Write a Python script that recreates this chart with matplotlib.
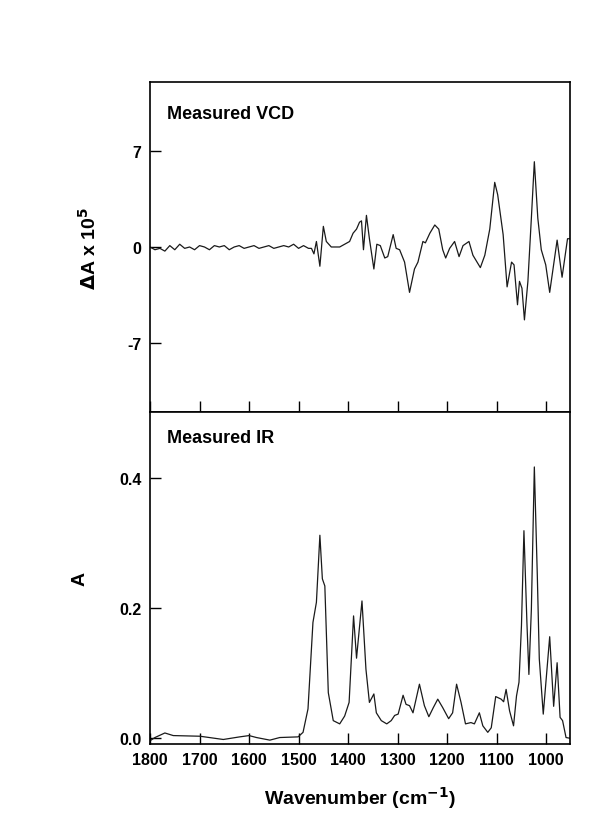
import numpy as np
import matplotlib
matplotlib.use("Agg")
import matplotlib.pyplot as plt

plt.rcParams["font.family"] = ["Liberation Sans", "DejaVu Sans"]
plt.rcParams["font.weight"] = "bold"
plt.rcParams["mathtext.default"] = "bf"
plt.rcParams["axes.unicode_minus"] = False

# ── Measured VCD (wavenumber, dA x 1e5) ───────────────────────────────────────
vcd_wn = [1800, 1790, 1780, 1770, 1760, 1750, 1740, 1730, 1720, 1710, 1700, 1690,
          1680, 1670, 1660, 1650, 1640, 1630, 1620, 1610, 1600, 1590, 1580, 1570,
          1560, 1550, 1540, 1530, 1520, 1510, 1500, 1490, 1480, 1474,
          1469, 1464, 1457, 1450, 1444, 1434, 1417, 1397, 1390, 1383, 1377, 1373,
          1369, 1363, 1357, 1348, 1342, 1335, 1326, 1320, 1309, 1303, 1296, 1286,
          1276, 1266, 1259, 1249, 1244, 1235, 1225, 1217, 1209, 1203, 1195, 1185,
          1176, 1168, 1156, 1148, 1133, 1124, 1114, 1104, 1098, 1087, 1079, 1070,
          1065, 1058, 1054, 1049, 1044, 1037, 1030, 1024, 1017, 1010, 1001, 993,
          978, 968, 957, 953]
vcd_val = [0.0, -0.2, -0.1, -0.3, 0.1, -0.2, 0.2, -0.1, 0.0, -0.2, 0.1, 0.0,
           -0.2, 0.1, 0.0, 0.1, -0.2, 0.0, 0.1, -0.1, 0.0, 0.1, -0.1, 0.0,
           0.1, -0.1, 0.0, 0.1, 0.0, 0.2, -0.1, 0.1, -0.1, -0.1,
           -0.5, 0.4, -1.4, 1.5, 0.4, 0.0, 0.0, 0.4, 1.0, 1.3, 1.8, 1.9,
           -0.2, 2.3, 0.6, -1.6, 0.2, 0.1, -0.8, -0.7, 0.9, -0.1, -0.2, -1.1,
           -3.3, -1.6, -1.1, 0.4, 0.3, 1.0, 1.6, 1.3, -0.2, -0.8, -0.1, 0.4,
           -0.7, 0.1, 0.4, -0.6, -1.5, -0.6, 1.3, 4.7, 3.8, 0.9, -2.9, -1.1,
           -1.3, -4.2, -2.5, -3.0, -5.3, -2.5, 2.1, 6.2, 2.1, -0.2, -1.3, -3.3,
           0.5, -2.2, 0.6, 0.6]

# ── Measured IR (wavenumber, absorbance) ──────────────────────────────────────
ir_wn = [1800, 1790, 1770, 1753, 1699, 1652, 1619, 1600, 1585, 1558, 1538, 1501,
         1491, 1481, 1471, 1464, 1457, 1452, 1447, 1440, 1430, 1417, 1407, 1398,
         1389, 1383, 1372, 1364, 1357, 1348, 1343, 1333, 1322, 1313, 1306, 1299,
         1289, 1283, 1276, 1269, 1256, 1246, 1237, 1228, 1219, 1209, 1197, 1189,
         1181, 1172, 1163, 1152, 1145, 1135, 1128, 1118, 1111, 1102, 1091, 1086,
         1081, 1074, 1066, 1060, 1055, 1050, 1045, 1039, 1035, 1030, 1024, 1018,
         1014, 1006, 993, 985, 978, 972, 967, 960, 953]
ir_val = [-0.004, 0.001, 0.008, 0.004, 0.003, -0.002, 0.002, 0.004, 0.001, -0.003, 0.001, 0.002,
          0.009, 0.045, 0.178, 0.209, 0.312, 0.245, 0.234, 0.070, 0.027, 0.022, 0.034, 0.055,
          0.188, 0.123, 0.211, 0.106, 0.055, 0.068, 0.039, 0.027, 0.022, 0.027, 0.035, 0.037,
          0.066, 0.052, 0.050, 0.039, 0.083, 0.050, 0.033, 0.047, 0.060, 0.047, 0.030, 0.039,
          0.083, 0.055, 0.022, 0.024, 0.022, 0.039, 0.019, 0.009, 0.016, 0.064, 0.060, 0.056,
          0.075, 0.042, 0.019, 0.065, 0.086, 0.173, 0.319, 0.178, 0.098, 0.198, 0.417, 0.250,
          0.122, 0.037, 0.156, 0.049, 0.116, 0.032, 0.027, 0.001, 0.000]

XLIM = (1800, 952)
LINE = "#1a1a1a"

fig = plt.figure(figsize=(6, 8.28), dpi=100)
ax1 = fig.add_axes([0.25, 0.5012, 0.70, 0.3986])
ax2 = fig.add_axes([0.25, 0.1002, 0.70, 0.4010])

for ax in (ax1, ax2):
    ax.set_xlim(*XLIM)
    ax.set_xticks([1800, 1700, 1600, 1500, 1400, 1300, 1200, 1100, 1000])
    ax.tick_params(direction="in", length=8, width=1, labelsize=11.5, pad=6)
    for s in ax.spines.values():
        s.set_linewidth(1.2)

# ── VCD panel ────────────────────────────────────────────────────────────────
ax1.plot(vcd_wn, vcd_val, color=LINE, linewidth=0.9)
ax1.set_ylim(-12, 12)
ax1.set_yticks([-7, 0, 7])
ax1.tick_params(axis="x", labelbottom=False)
ax1.set_ylabel(r"$\Delta$A x 10$^5$", fontsize=14, fontweight="bold", labelpad=20)
ax1.text(0.04, 0.93, "Measured VCD", transform=ax1.transAxes, fontsize=13,
         fontweight="bold", va="top")

# ── IR panel ─────────────────────────────────────────────────────────────────
ax2.plot(ir_wn, ir_val, color=LINE, linewidth=0.9)
ax2.set_ylim(-0.009, 0.5015)
ax2.set_yticks([0.0, 0.2, 0.4])
ax2.set_yticklabels(["0.0", "0.2", "0.4"])
ax2.set_ylabel("A", fontsize=14, fontweight="bold", labelpad=22)
ax2.set_xlabel(r"Wavenumber (cm$^{-1}$)", fontsize=14, fontweight="bold", labelpad=12)
ax2.text(0.04, 0.95, "Measured IR", transform=ax2.transAxes, fontsize=13,
         fontweight="bold", va="top")

plt.savefig("out.png", dpi=100)
